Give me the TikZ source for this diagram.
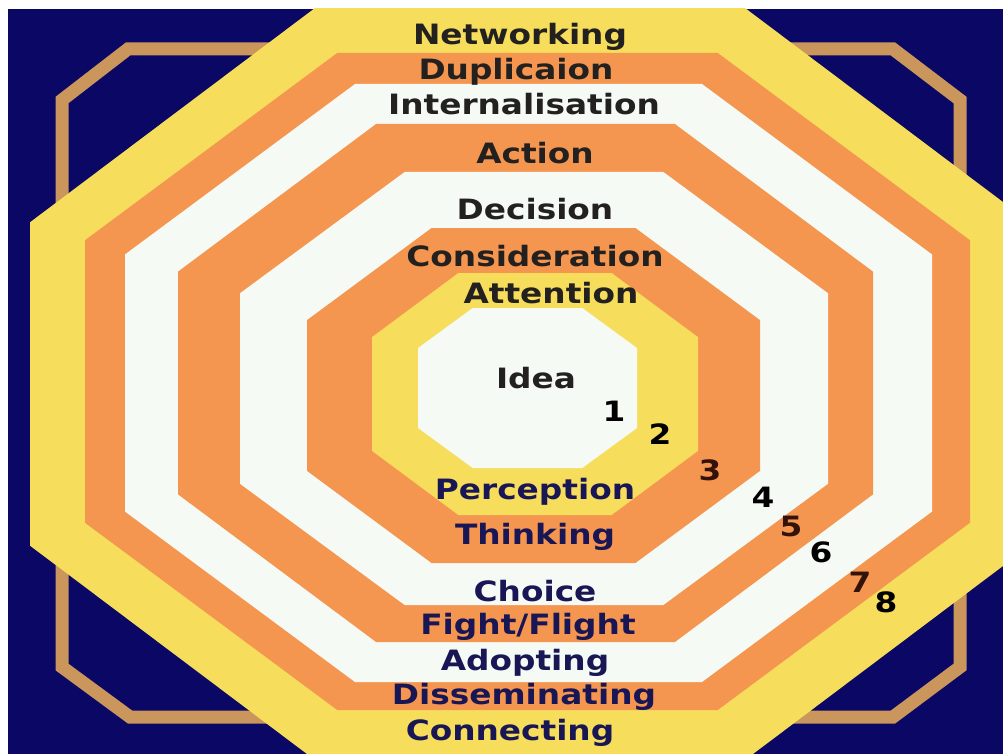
\documentclass[tikz,border=0pt]{standalone}
\usepackage{fontspec}
\setsansfont{DejaVu Sans}
\usetikzlibrary{positioning}

\definecolor{navyback}{RGB}{10,8,100}
\definecolor{tanframe}{RGB}{203,150,92}
\definecolor{yellowband}{RGB}{246,221,92}
\definecolor{orangeband}{RGB}{245,150,80}
\definecolor{whiteband}{RGB}{245,250,245}
\definecolor{toptext}{RGB}{35,32,32}
\definecolor{bottext}{RGB}{25,22,85}
\definecolor{numbrown}{RGB}{50,18,10}

% one filled octagon: colour, left, right, top, bottom, corner share
\newcommand{\octband}[6]{%
  \pgfmathsetmacro{\octcx}{(#2+#3)/2}%
  \pgfmathsetmacro{\octcy}{(#4+#5)/2}%
  \pgfmathsetmacro{\octdx}{#6*(#3-#2)/2}%
  \pgfmathsetmacro{\octdy}{#6*(#5-#4)/2}%
  \fill[#1] (\octcx-\octdx,#4) -- (\octcx+\octdx,#4) -- (#3,\octcy-\octdy) -- (#3,\octcy+\octdy)
    -- (\octcx+\octdx,#5) -- (\octcx-\octdx,#5) -- (#2,\octcy+\octdy) -- (#2,\octcy-\octdy) -- cycle;}

\begin{document}
\begin{tikzpicture}[x=1pt, y=-1pt,
toplabel/.style={font=\sffamily\bfseries\fontsize{28}{32}\selectfont, text=toptext, xscale=1.17, inner sep=0pt, anchor=base},
botlabel/.style={toplabel, text=bottext},
numlabel/.style={toplabel, text=black},
numorange/.style={numlabel, text=numbrown}
]
    \useasboundingbox (0,0) rectangle (1003,754);
    \clip (8,9) rectangle (1003,754);
    \fill[navyback] (8,9) rectangle (1003,754);

    % frame behind the bands
    \draw[tanframe, line width=13pt, line join=miter]
      (128,49) -- (893,49) -- (960,100) -- (960,667) -- (893,717)
      -- (130,717) -- (62,667) -- (62,100) -- cycle;

    % bands, outside in
    \octband{yellowband}{30}{1030}{8}{760}{0.43}
    \octband{orangeband}{85}{970}{53}{710}{0.43}
    \octband{whiteband}{125}{932}{84}{682}{0.43}
    \octband{orangeband}{178}{873}{124}{642}{0.43}
    \octband{whiteband}{240}{828}{172}{605}{0.44}
    \octband{orangeband}{307}{760}{228}{563}{0.45}
    \octband{yellowband}{372}{698}{273}{515}{0.47}
    \octband{whiteband}{418}{637}{308}{468}{0.5}

    % upper labels
    \node[toplabel] (nodeNet)  at (520,45)  {Networking};
    \node[toplabel] (nodeDup)  at (516,80)  {Duplicaion};
    \node[toplabel] (nodeInt)  at (524,115) {Internalisation};
    \node[toplabel] (nodeAct)  at (535,164) {Action};
    \node[toplabel] (nodeDec)  at (535,219) {Decision};
    \node[toplabel] (nodeCon)  at (535,266) {Consideration};
    \node[toplabel] (nodeAtt)  at (551,303) {Attention};
    \node[toplabel] (nodeIdea) at (536,388) {Idea};

    % lower labels
    \node[botlabel] (nodePer)  at (535,499) {Perception};
    \node[botlabel] (nodeThi)  at (535,544) {Thinking};
    \node[botlabel] (nodeCho)  at (535,601) {Choice};
    \node[botlabel] (nodeFig)  at (528,634) {Fight/Flight};
    \node[botlabel] (nodeAdo)  at (525,670) {Adopting};
    \node[botlabel] (nodeDis)  at (524,704) {Disseminating};
    \node[botlabel] (nodeConn) at (510,740) {Connecting};

    % band numbers
    \node[numlabel]  (num1) at (614,421) {1};
    \node[numlabel]  (num2) at (660,444) {2};
    \node[numorange] (num3) at (710,480) {3};
    \node[numlabel]  (num4) at (763,507) {4};
    \node[numorange] (num5) at (791,536) {5};
    \node[numlabel]  (num6) at (821,562) {6};
    \node[numorange] (num7) at (860,592) {7};
    \node[numlabel]  (num8) at (886,612) {8};
\end{tikzpicture}
\end{document}
